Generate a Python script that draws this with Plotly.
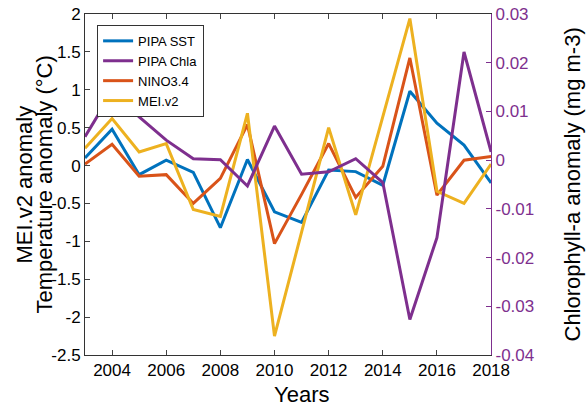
import plotly.graph_objects as go
from plotly.subplots import make_subplots

# Annual anomalies
years = list(range(2003, 2019))
pipa_sst = [0.1, 0.48, -0.12, 0.07, -0.09, -0.82, 0.08, -0.61, -0.75, -0.06,
            -0.08, -0.26, 0.98, 0.56, 0.27, -0.23]
pipa_chla = [0.0048, 0.014, 0.0089, 0.0041, 0.0003, 0.0001, -0.0053, 0.007,
             -0.0029, -0.0024, 0.0003, -0.0046, -0.0327, -0.0159, 0.0222, 0.0017]
nino34 = [0.02, 0.28, -0.14, -0.12, -0.5, -0.17, 0.54, -1.03, -0.38, 0.29,
          -0.42, -0.01, 1.42, -0.39, 0.07, 0.12]
mei_v2 = [0.23, 0.62, 0.18, 0.29, -0.58, -0.67, 0.69, -2.25, -0.88, 0.5,
          -0.65, 0.63, 1.94, -0.34, -0.5, 0.02]

x_ticks = [2004, 2006, 2008, 2010, 2012, 2014, 2016, 2018]
y_ticks = [2, 1.5, 1, 0.5, 0, -0.5, -1, -1.5, -2, -2.5]
y_ticklabels = ['2', '1.5', '1', '0.5', '0', '-0.5', '-1', '-1.5', '-2', '-2.5']
y2_ticks = [0.03, 0.02, 0.01, 0, -0.01, -0.02, -0.03, -0.04]
y2_ticklabels = ['0.03', '0.02', '0.01', '0', '-0.01', '-0.02', '-0.03', '-0.04']

BLUE = '#0072BD'
ORANGE = '#D95319'
YELLOW = '#EDB120'
PURPLE = '#7E2F8E'
FONT = 'Liberation Sans, Arial, sans-serif'

fig = make_subplots(specs=[[{"secondary_y": True}]])

fig.add_trace(go.Scatter(x=years, y=pipa_sst, name='PIPA SST', mode='lines',
                         line=dict(color=BLUE, width=3)), secondary_y=False)
fig.add_trace(go.Scatter(x=years, y=pipa_chla, name='PIPA Chla', mode='lines',
                         line=dict(color=PURPLE, width=3)), secondary_y=True)
fig.add_trace(go.Scatter(x=years, y=nino34, name='NINO3.4', mode='lines',
                         line=dict(color=ORANGE, width=3)), secondary_y=False)
fig.add_trace(go.Scatter(x=years, y=mei_v2, name='MEI.v2', mode='lines',
                         line=dict(color=YELLOW, width=3)), secondary_y=False)

fig.update_layout(
    width=588, height=406,
    margin=dict(l=85, r=71, t=14, b=51),
    paper_bgcolor='white', plot_bgcolor='white',
    font=dict(family=FONT, size=17, color='black'),
    showlegend=True,
    legend=dict(x=0.028, y=0.968, xanchor='left', yanchor='top',
                bgcolor='white', bordercolor='#333333', borderwidth=1,
                font=dict(size=13), itemwidth=30, tracegroupgap=0,
                traceorder='normal'),
)

fig.update_xaxes(
    range=[2003, 2018], tickvals=x_ticks, ticks='inside', ticklen=5,
    showline=True, linecolor='#333333', linewidth=1, mirror='ticks',
    showgrid=False, zeroline=False, automargin=False,
    ticklabeloverflow='allow',
)
fig.update_yaxes(
    range=[-2.5, 2], tickvals=y_ticks, ticktext=y_ticklabels,
    ticks='inside', ticklen=5, showline=True, linecolor='#333333', linewidth=1,
    showgrid=False, zeroline=False, automargin=False, secondary_y=False,
    ticklabeloverflow='allow',
)
fig.update_yaxes(
    range=[-0.04, 0.03], tickvals=y2_ticks, ticktext=y2_ticklabels,
    ticks='inside', ticklen=5, tickcolor=PURPLE, tickfont=dict(color=PURPLE),
    showline=True, linecolor=PURPLE, linewidth=1,
    showgrid=False, zeroline=False, automargin=False, secondary_y=True,
    ticklabeloverflow='allow',
)

# axis titles placed as annotations so the plot area keeps its size
title_font = dict(size=22, family=FONT, color='black')
fig.add_annotation(text='MEI.v2 anomaly', textangle=-90, xref='paper', yref='paper',
                   x=0, y=0.5, xanchor='center', yanchor='middle', xshift=-61,
                   showarrow=False, font=title_font)
fig.add_annotation(text='Temperature anomaly (°C)', textangle=-90, xref='paper', yref='paper',
                   x=0, y=0.5, xanchor='center', yanchor='middle', xshift=-41,
                   showarrow=False, font=title_font)
fig.add_annotation(text='Chlorophyll-a anomaly (mg m-3)', textangle=-90, xref='paper',
                   yref='paper', x=1, y=0.5, xanchor='center', yanchor='middle',
                   xshift=55, showarrow=False, font=title_font)
fig.add_annotation(text='Years', xref='paper', yref='paper', x=0.5, y=0,
                   xanchor='center', yanchor='middle', yshift=-39,
                   showarrow=False, font=title_font)

# drop the browser's default body margin so the figure sits at the page corner
fig.write_html("out.html", config={'displayModeBar': False},
               post_script="document.body.style.margin='0';")
